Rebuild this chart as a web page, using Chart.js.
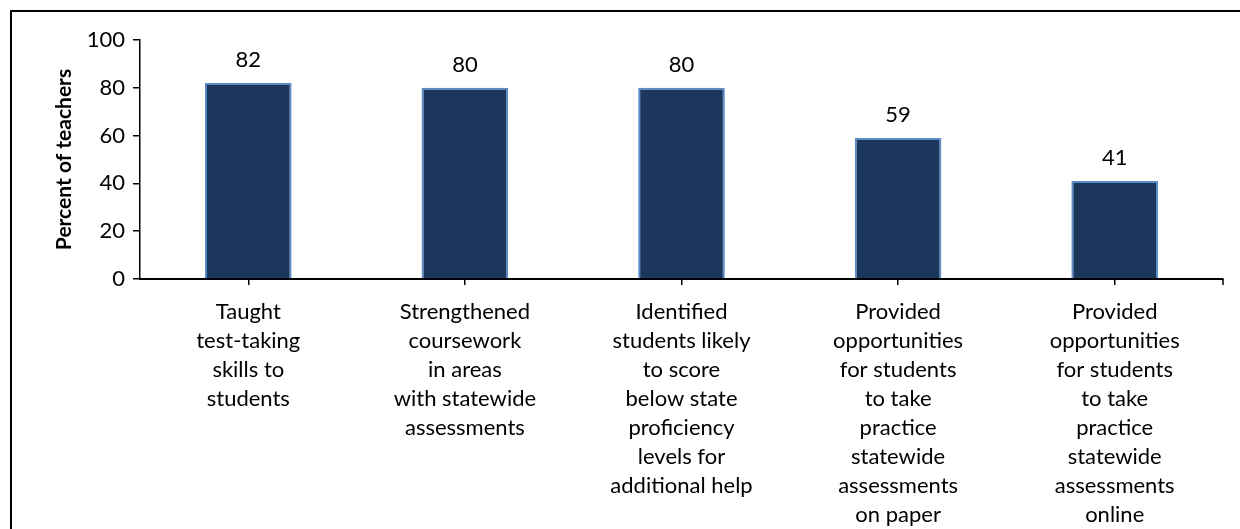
<!DOCTYPE html>
<html>
<head>
<meta charset="utf-8">
<script src="https://cdn.jsdelivr.net/npm/chart.js@4.4.1/dist/chart.umd.min.js"></script>
<style>
  html, body { margin: 0; padding: 0; background: #fff; }
  #wrap { position: relative; width: 1240px; height: 529px; }
  #frame { position: absolute; left: 10px; top: 10px; right: -10px; bottom: -10px;
           border-left: 2px solid #000; border-top: 2px solid #000; pointer-events: none; }
</style>
</head>
<body>
<div id="wrap">
  <canvas id="chart" width="1240" height="529"></canvas>
  <div id="frame"></div>
</div>
<script>
const categories = [
  ['Taught', 'test-taking', 'skills to', 'students'],
  ['Strengthened', 'coursework', 'in areas', 'with statewide', 'assessments'],
  ['Identified', 'students likely', 'to score', 'below state', 'proficiency', 'levels for', 'additional help'],
  ['Provided', 'opportunities', 'for students', 'to take', 'practice', 'statewide', 'assessments', 'on paper'],
  ['Provided', 'opportunities', 'for students', 'to take', 'practice', 'statewide', 'assessments', 'online']
];
const percentTeachers = [82, 80, 80, 59, 41];
const yTicks = [0, 20, 40, 60, 80, 100];

const FONT = 'Lato, "Open Sans", sans-serif';

// numbers above the bars
const valueLabels = {
  id: 'valueLabels',
  afterDatasetsDraw(chart) {
    const c = chart.ctx;
    const meta = chart.getDatasetMeta(0);
    c.save();
    c.font = '22px ' + FONT;
    c.fillStyle = '#000';
    c.textAlign = 'center';
    c.textBaseline = 'middle';
    meta.data.forEach((bar, i) => {
      c.fillText(String(percentTeachers[i]), bar.x, bar.y - 23);
    });
    c.restore();
  }
};

// little tick at the right end of the x axis
const endTick = {
  id: 'endTick',
  afterDraw(chart) {
    const c = chart.ctx;
    const a = chart.chartArea;
    c.save();
    c.strokeStyle = '#000';
    c.lineWidth = 1.5;
    c.beginPath();
    c.moveTo(a.right, a.bottom);
    c.lineTo(a.right, a.bottom + 6);
    c.stroke();
    c.restore();
  }
};

new Chart(document.getElementById('chart'), {
  type: 'bar',
  data: {
    labels: categories,
    datasets: [{
      data: percentTeachers,
      backgroundColor: '#1B375C',
      borderColor: '#5B8CC8',
      borderWidth: 2,
      barPercentage: 0.4,
      categoryPercentage: 1
    }]
  },
  options: {
    responsive: false,
    animation: false,
    layout: { padding: { left: 50, top: 40, right: 17, bottom: 0 } },
    plugins: { legend: { display: false }, tooltip: { enabled: false } },
    scales: {
      x: {
        afterFit(s) { s.height = 250; },
        grid: { offset: false, drawOnChartArea: false, color: '#000', lineWidth: 1.5, tickLength: 6 },
        border: { color: '#000', width: 2 },
        ticks: {
          color: '#000', font: { family: FONT, size: 22, lineHeight: 1.32 },
          maxRotation: 0, autoSkip: false, padding: 12
        }
      },
      y: {
        min: 0, max: 100,
        afterFit(s) { s.width = 90; },
        afterBuildTicks(s) { s.ticks = yTicks.map(v => ({ value: v })); },
        grid: { drawOnChartArea: false, color: '#000', lineWidth: 1.5, tickLength: 7 },
        border: { color: '#000', width: 1.5 },
        ticks: { color: '#000', font: { family: FONT, size: 22 }, padding: 8 },
        title: {
          display: true, text: 'Percent of teachers', color: '#000',
          font: { family: FONT, size: 21, weight: 'bold' }, padding: { top: 2, bottom: 0 }
        }
      }
    }
  },
  plugins: [valueLabels, endTick]
});
</script>
</body>
</html>
